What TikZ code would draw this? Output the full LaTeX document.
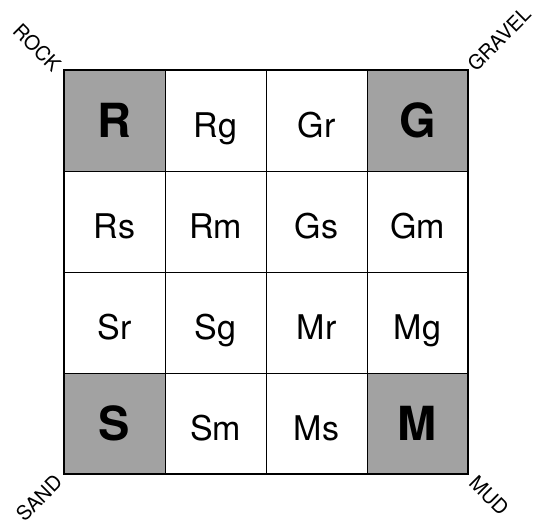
\documentclass[tikz,border=0pt]{standalone}
\usepackage{fontspec}
\setmainfont{TeX Gyre Heros}
\usepackage{tikz}
\usetikzlibrary{positioning}
\definecolor{cellgray}{HTML}{A2A2A2}

\begin{document}
\begin{tikzpicture}[
  x=1pt, y=1pt,
  cell/.style={rectangle, draw, line width=0.9pt, minimum size=101pt, inner sep=0pt, outer sep=0pt,
    text height=34pt, text depth=0pt, font=\fontsize{34}{40}\selectfont},
  endmember/.style={cell, fill=cellgray, font=\fontsize{47}{50}\selectfont\bfseries},
  corner/.style={font=\fontsize{20}{24}\selectfont, inner sep=0pt},
  node distance=0pt
]
\useasboundingbox (0,0) rectangle (534,520);

% top row
\node[endmember, anchor=north west] (R) at (64,450) {R};
\node[cell, right=of R] (Rg) {Rg};
\node[cell, right=of Rg] (Gr) {Gr};
\node[endmember, right=of Gr] (G) {G};
% second row
\node[cell, below=of R] (Rs) {Rs};
\node[cell, right=of Rs] (Rm) {Rm};
\node[cell, right=of Rm] (Gs) {Gs};
\node[cell, right=of Gs] (Gm) {Gm};
% third row
\node[cell, below=of Rs] (Sr) {Sr};
\node[cell, right=of Sr] (Sg) {Sg};
\node[cell, right=of Sg] (Mr) {Mr};
\node[cell, right=of Mr] (Mg) {Mg};
% bottom row
\node[endmember, below=of Sr] (S) {S};
\node[cell, right=of S] (Sm) {Sm};
\node[cell, right=of Sm] (Ms) {Ms};
\node[endmember, right=of Ms] (M) {M};

\draw[line width=2pt] (R.north west) rectangle (M.south east);

% corner labels
\node[corner, rotate=-45] (rock) at (37,472) {ROCK};
\node[corner, rotate=45] (gravel) at (499,481) {GRAVEL};
\node[corner, rotate=45] (sand) at (39,22) {SAND};
\node[corner, rotate=-45] (mud) at (489,24) {MUD};

\end{tikzpicture}
\end{document}
